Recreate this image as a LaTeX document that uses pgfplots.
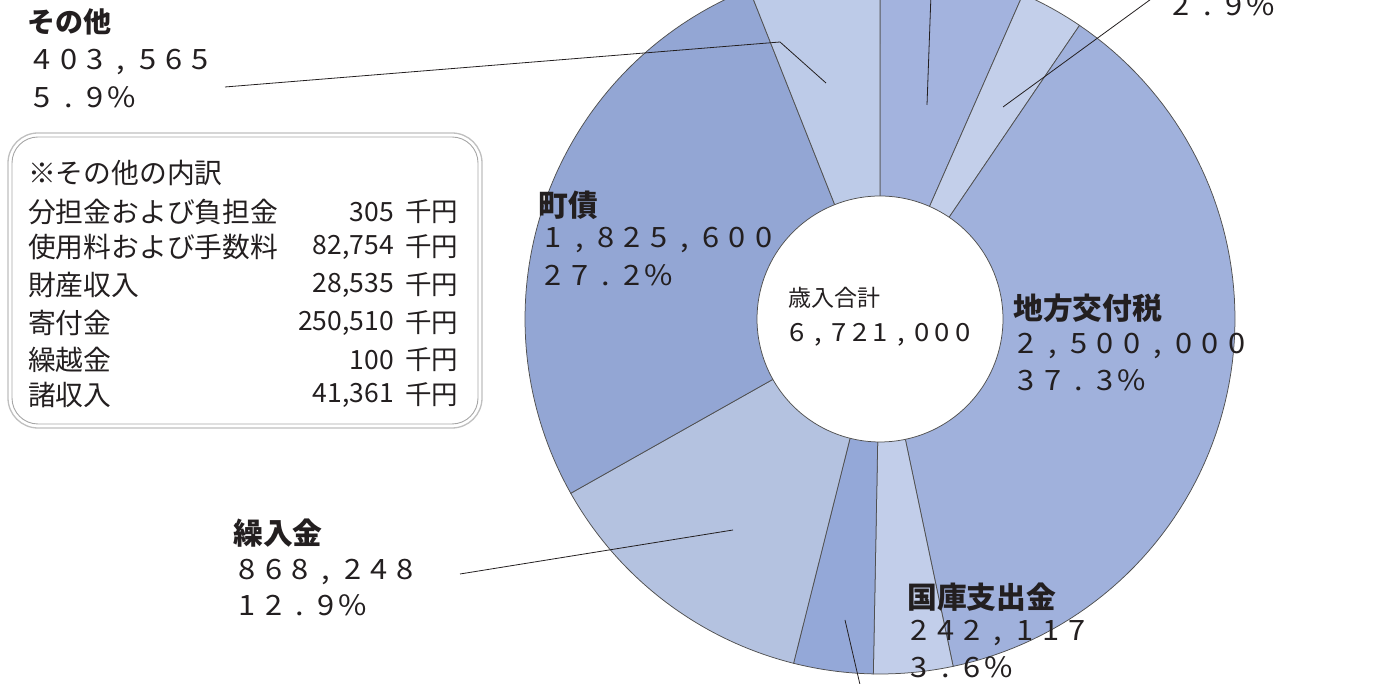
\documentclass[border=0pt]{standalone}
\usepackage{pgfplots}
\pgfplotsset{compat=1.18}
\usepackage{pgfplotstable}
\usepackage{fontspec}
\setmainfont{Noto Sans CJK JP}

\definecolor{cA}{HTML}{A3B3DE}
\definecolor{cB}{HTML}{C3CFEA}
\definecolor{cC}{HTML}{A0B1DC}
\definecolor{cD}{HTML}{C2CEEA}
\definecolor{cE}{HTML}{94A8D8}
\definecolor{cF}{HTML}{B4C2E0}
\definecolor{cG}{HTML}{93A6D4}
\definecolor{cH}{HTML}{BDCBE8}
\definecolor{edge}{HTML}{505050}
\definecolor{txt}{HTML}{231F20}

% revenue items, clockwise from 12 o'clock (thousand yen)
\pgfplotstableread{
val
443470
195000
2500000
242117
243000
868248
1825600
403565
}\revtable

\def\angacc{0}
\pgfplotsforeachungrouped \i in {0,...,7}{%
  \pgfplotstablegetelem{\i}{val}\of\revtable
  \expandafter\xdef\csname angS\i\endcsname{\angacc}%
  \xdef\angacc{\fpeval{round(\angacc+360*\pgfplotsretval/6721000,4)}}%
  \expandafter\xdef\csname angE\i\endcsname{\angacc}%
}

\newcommand\slice[2]{%
  \edef\tmp{\noexpand\addplot[fill=#2,draw=edge,line width=0.75bp,
    domain=\csname angS#1\endcsname:\csname angE#1\endcsname,samples=80]
    ({880+355*sin(x)},{365+355*cos(x)}) -- (axis cs:880,365) -- cycle;}%
  \tmp}

% fixed-pitch figures: each character centred in a cell
\ExplSyntaxOn
\NewDocumentCommand\fw{O{26.3bp}m}{\tl_map_inline:nn{#2}{\makebox[#1][c]{\scalebox{1.1}[1]{##1}}}}
\ExplSyntaxOff

\newcommand\hd{\fontsize{29.8bp}{32bp}\selectfont\bfseries}
\newcommand\nm{\fontsize{28bp}{30bp}\selectfont}
\newcommand\lgd{\fontsize{27.8bp}{30bp}\selectfont}

\begin{document}
\begin{tikzpicture}
\begin{axis}[name=ax, width=1396bp, height=684bp, scale only axis,
  xmin=0, xmax=1396, ymin=0, ymax=684, hide axis, clip=true]
\slice{0}{cA}
\slice{1}{cB}
\slice{2}{cC}
\slice{3}{cD}
\slice{4}{cE}
\slice{5}{cF}
\slice{6}{cG}
\slice{7}{cH}
\addplot[fill=white,draw=edge,line width=0.75bp,domain=0:360,samples=150]
  ({880+123*sin(x)},{365+123*cos(x)}) -- cycle;

% leader lines
\draw[txt, line width=0.8bp] (axis cs:225,597) -- (axis cs:780,642) -- (axis cs:826,601);
\draw[txt, line width=0.8bp] (axis cs:460,110) -- (axis cs:733,154);
\draw[txt, line width=0.8bp] (axis cs:927,579) -- (axis cs:931,690);
\draw[txt, line width=0.8bp] (axis cs:1003,577) -- (axis cs:1158,690);
\draw[txt, line width=0.8bp] (axis cs:845,64) -- (axis cs:861,-5);

% labels
\begin{scope}[every node/.style={anchor=west, inner sep=0pt, text=txt}]
\node[font=\fontsize{28bp}{32bp}\selectfont\bfseries] at (axis cs:27,662) {その他};
\node[font=\nm] at (axis cs:29,622) {\fw{403,565}};
\node[font=\nm] at (axis cs:29,587) {\fw{5.9\%}};

\node[font=\hd] at (axis cs:538,479) {町債};
\node[font=\nm] at (axis cs:540,444) {\fw{1,825,600}};
\node[font=\nm] at (axis cs:540,409) {\fw{27.2\%}};

\node[font=\fontsize{23bp}{26bp}\selectfont] at (axis cs:788,386) {歳入合計};
\node[font=\fontsize{25bp}{28bp}\selectfont] at (axis cs:787,349) {\fw[20.7bp]{6,721,000}};

\node[font=\hd] at (axis cs:1013,376) {地方交付税};
\node[font=\nm] at (axis cs:1013,338) {\fw{2,500,000}};
\node[font=\nm] at (axis cs:1013,304) {\fw{37.3\%}};

\node[font=\hd] at (axis cs:233,151) {繰入金};
\node[font=\nm] at (axis cs:234,112) {\fw{868,248}};
\node[font=\nm] at (axis cs:234,79) {\fw{12.9\%}};

\node[font=\hd] at (axis cs:907,87) {国庫支出金};
\node[font=\nm] at (axis cs:906,51) {\fw{242,117}};
\node[font=\nm] at (axis cs:906,17) {\fw{3.6\%}};

\node[font=\nm] at (axis cs:1168,679) {\fw{2.9\%}};
\end{scope}

% breakdown box
\draw[black!25, line width=1.3bp, rounded corners=30bp] (axis cs:8,551) rectangle (axis cs:482,256);
\draw[black!35, line width=0.9bp, rounded corners=26bp] (axis cs:12,547) rectangle (axis cs:478,260);
\begin{scope}[every node/.style={inner sep=0pt, text=txt, font=\lgd}]
\node[anchor=west] at (axis cs:28,511) {※その他の内訳};
\node[anchor=west] at (axis cs:28,472) {分担金および負担金};
\node[anchor=west] at (axis cs:28,437) {使用料および手数料};
\node[anchor=west] at (axis cs:28,399) {財産収入};
\node[anchor=west] at (axis cs:28,361) {寄付金};
\node[anchor=west] at (axis cs:28,324) {繰越金};
\node[anchor=west] at (axis cs:28,289) {諸収入};
\end{scope}
\begin{scope}[every node/.style={inner sep=0pt, text=txt, font=\fontsize{26.5bp}{30bp}\selectfont}]
\node[anchor=east] at (axis cs:394,472) {305};
\node[anchor=east] at (axis cs:394,437) {82,754};
\node[anchor=east] at (axis cs:394,399) {28,535};
\node[anchor=east] at (axis cs:394,361) {250,510};
\node[anchor=east] at (axis cs:394,324) {100};
\node[anchor=east] at (axis cs:394,289) {41,361};
\node[anchor=west] at (axis cs:405,472) {千円};
\node[anchor=west] at (axis cs:405,437) {千円};
\node[anchor=west] at (axis cs:405,399) {千円};
\node[anchor=west] at (axis cs:405,361) {千円};
\node[anchor=west] at (axis cs:405,324) {千円};
\node[anchor=west] at (axis cs:405,289) {千円};
\end{scope}
\end{axis}
\pgfresetboundingbox
\path[use as bounding box] (ax.south west) rectangle (ax.north east);
\end{tikzpicture}
\end{document}
